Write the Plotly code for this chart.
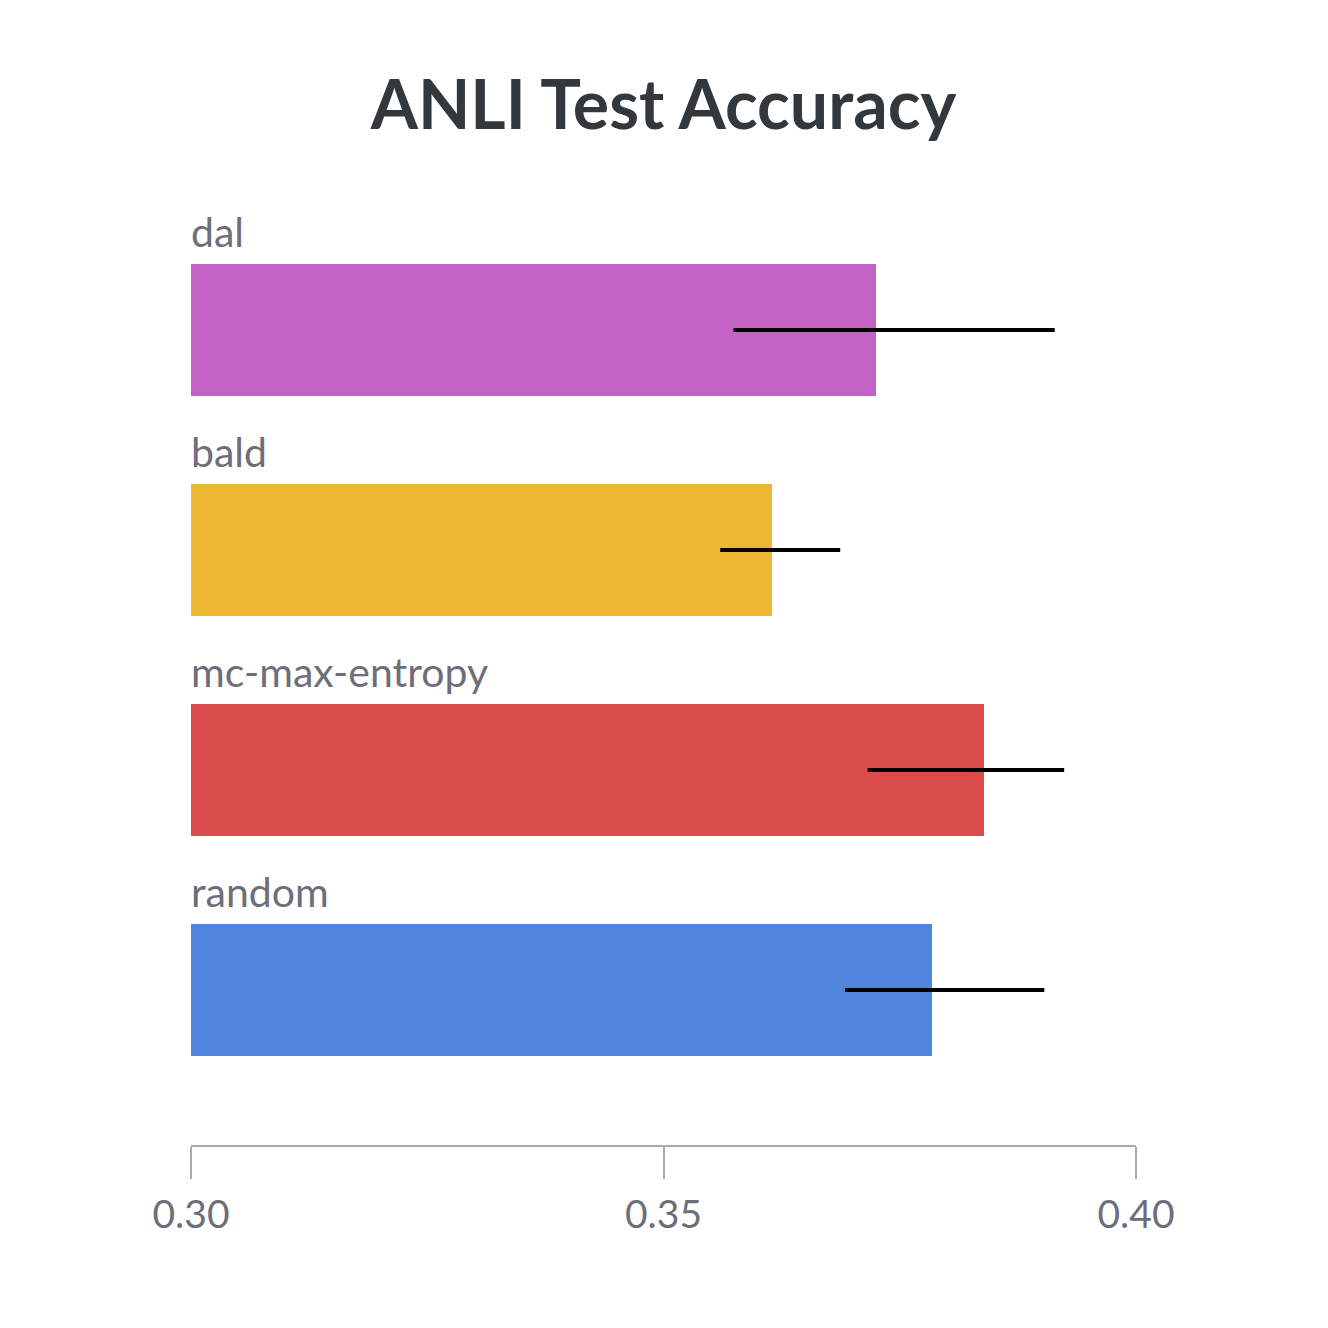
import plotly.graph_objects as go

categories = ["dal", "bald", "mc-max-entropy", "random"]
accuracy = [0.3725, 0.3615, 0.3839, 0.3784]
err_low = [0.3574, 0.3560, 0.3716, 0.3692]
err_high = [0.3914, 0.3687, 0.3924, 0.3903]
colors = ["#c463c6", "#ecb732", "#da4c4c", "#5286dc"]
tick_vals = [0.30, 0.35, 0.40]
tick_text = ["0.30", "0.35", "0.40"]

FONT = "Lato"
pos = list(range(len(categories)))

fig = go.Figure()
fig.add_trace(go.Bar(
    x=accuracy, y=pos, orientation="h", width=0.6,
    marker=dict(color=colors, line=dict(width=0)),
    showlegend=False, hoverinfo="skip",
))
for i in pos:
    fig.add_trace(go.Scatter(
        x=[err_low[i], err_high[i]], y=[i, i], mode="lines",
        line=dict(color="black", width=4), showlegend=False, hoverinfo="skip",
    ))

annotations = []
for i, c in enumerate(categories):
    annotations.append(dict(
        x=0, xref="paper", y=i - 0.3, yref="y", text=c, showarrow=False,
        xanchor="left", yanchor="bottom", yshift=6, xshift=-2,
        font=dict(family=FONT, size=41, color="#6e6d7a"),
    ))

fig.update_layout(
    width=1328, height=1328,
    margin=dict(l=183, r=200, t=212, b=191),
    paper_bgcolor="white", plot_bgcolor="white",
    title=dict(text="<b>ANLI Test Accuracy</b>", x=(183 + 945 / 2) / 1328, xanchor="center",
               y=1 - 97 / 1328, yanchor="middle", yref="container",
               font=dict(family=FONT, size=68, color="#33383c")),
    xaxis=dict(range=[0.30, 0.40], tickvals=tick_vals, ticktext=tick_text,
               showline=True, linecolor="#aaaaaa", linewidth=2,
               ticks="outside", ticklen=32, tickwidth=2, tickcolor="#aaaaaa",
               showgrid=False, zeroline=False, ticklabelstandoff=2,
               tickfont=dict(family=FONT, size=39, color="#6e6d7a")),
    yaxis=dict(range=[-0.5 + 925 / 220, -0.5], visible=False,
               showgrid=False, zeroline=False),
    annotations=annotations,
    bargap=0,
)

fig.write_html("out.html")
